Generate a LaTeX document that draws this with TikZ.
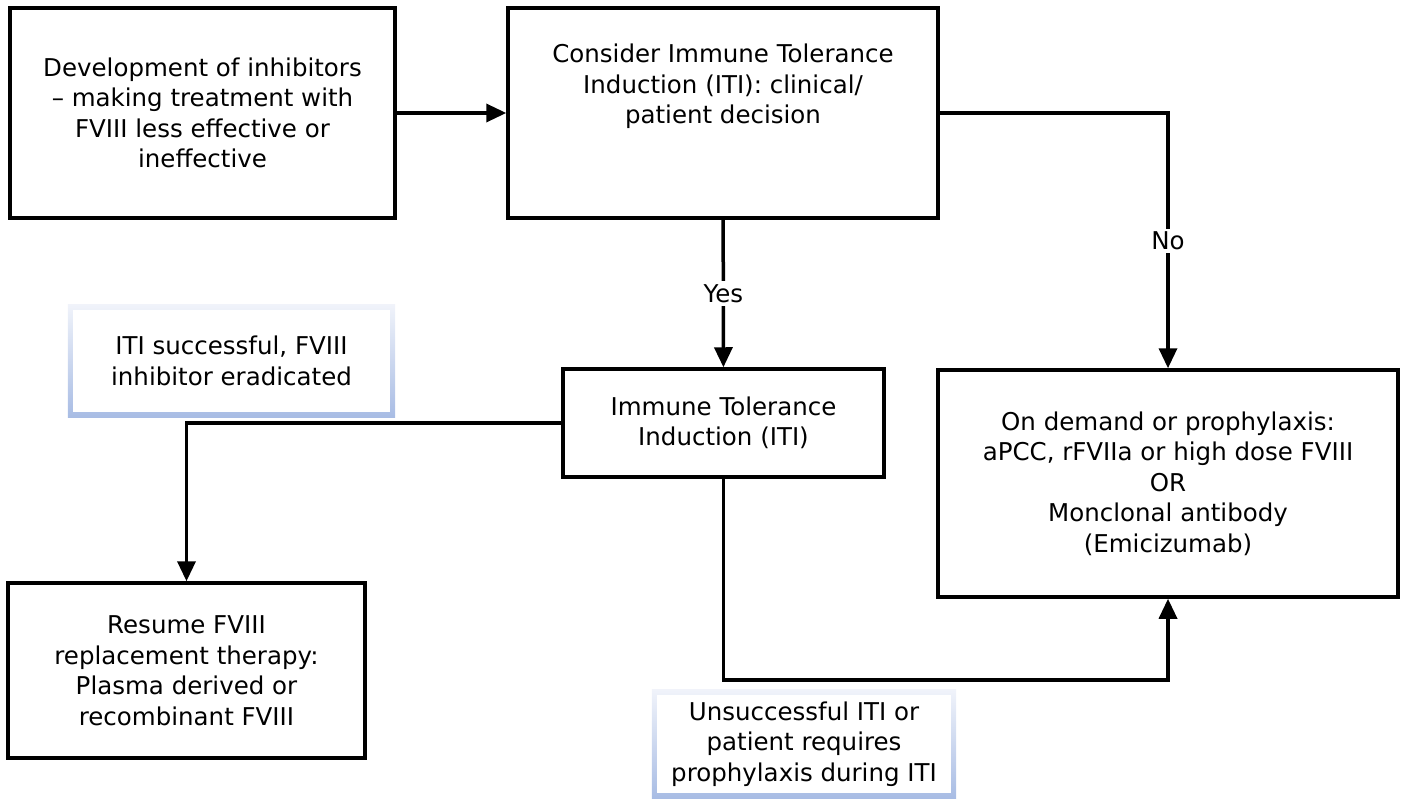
\documentclass[tikz,border=0pt]{standalone}
\usepackage{fontspec}
\setmainfont{DejaVu Sans}
\usetikzlibrary{arrows.meta,backgrounds}

\definecolor{tagtop}{RGB}{240,243,250}
\definecolor{tagbot}{RGB}{168,188,228}
\tikzset{
  box/.style={draw, line width=3.5pt, align=center, inner sep=0pt},
  tag/.style={fill=white, align=center, inner sep=0pt},
  answer/.style={fill=white, inner sep=3pt},
  flow/.style={line width=3.5pt, ->},
}

\begin{document}
\begin{tikzpicture}[x=1pt, y=-1pt, >={Triangle[length=20pt,width=18pt]},
  font=\fontsize{24.5}{30.5}\selectfont]
\useasboundingbox (0,0) rectangle (1402,800);

% boxes
\node[box, minimum width=385, minimum height=210] (dev) at (202.5,113)
  {Development of inhibitors\\– making treatment with\\FVIII less effective or\\ineffective};
\node[box, minimum width=430, minimum height=210, text depth=58pt] (consider) at (723,113)
  {Consider Immune Tolerance\\Induction (ITI): clinical/\\patient decision};
\node[box, minimum width=321, minimum height=108] (iti) at (723.5,423)
  {Immune Tolerance\\Induction (ITI)};
\node[box, minimum width=460, minimum height=227] (demand) at (1168,483.5)
  {On demand or prophylaxis:\\aPCC, rFVIIa or high dose FVIII\\OR\\Monclonal antibody\\(Emicizumab)};
\node[box, minimum width=357, minimum height=175] (resume) at (186.5,670.5)
  {Resume FVIII\\replacement therapy:\\Plasma derived or\\recombinant FVIII};

% outcome tags
\node[tag, minimum width=317, minimum height=102] (ok) at (231.5,361)
  {ITI successful, FVIII\\inhibitor eradicated};
\node[tag, minimum width=294, minimum height=98] (fail) at (804,744)
  {Unsuccessful ITI or\\patient requires\\prophylaxis during ITI};
\begin{scope}[on background layer]
\shade[top color=tagtop, bottom color=tagbot]
  ([shift={(-5pt,-5pt)}]ok.south west) rectangle ([shift={(5pt,5pt)}]ok.north east);
\shade[top color=tagtop, bottom color=tagbot]
  ([shift={(-5pt,-5pt)}]fail.south west) rectangle ([shift={(5pt,5pt)}]fail.north east);
\end{scope}

% connectors
\coordinate (low) at (0,680);
\draw[flow] (dev) -- (consider);
\draw[flow] (consider) -- node[answer] {Yes} (iti);
\draw[flow] (consider.east) -| node[answer, pos=0.75] {No} (demand.north);
\draw[flow] (iti.west) -| (resume.north);
\draw[flow] (iti.south) -- (iti.south |- low) -| (demand.south);
\end{tikzpicture}
\end{document}
